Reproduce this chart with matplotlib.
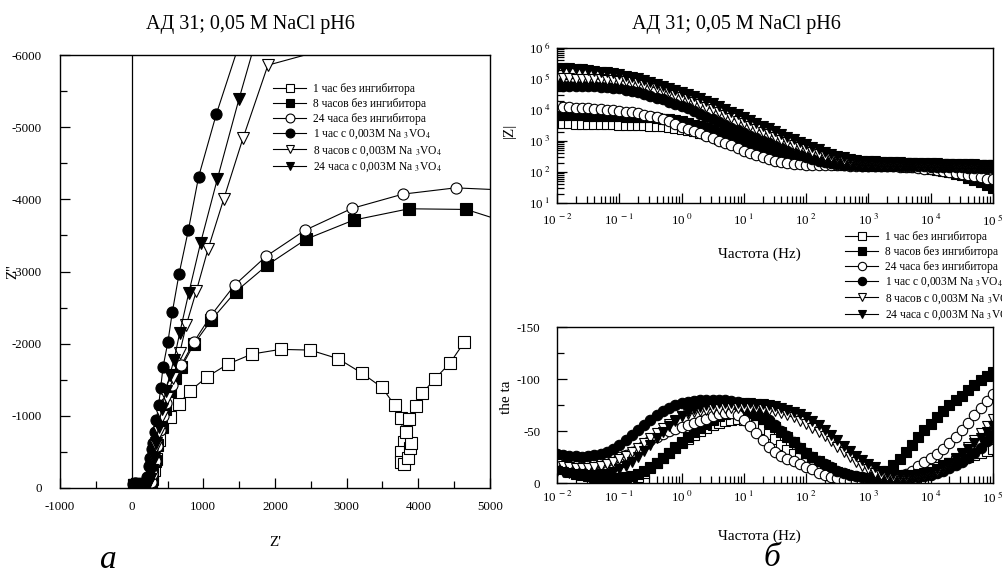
import numpy as np
import matplotlib
matplotlib.use("Agg")
import matplotlib.pyplot as plt
from matplotlib.ticker import FixedLocator, MultipleLocator, NullFormatter

plt.rcParams['font.family'] = ['Liberation Serif', 'DejaVu Serif']
plt.rcParams['mathtext.fontset'] = 'stix'
plt.rcParams['axes.unicode_minus'] = False

labels = ["1 час без ингибитора", "8 часов без ингибитора", "24 часа без ингибитора",
          "1 час с 0,003M Na $_3$VO$_4$", "8 часов с 0,003M Na $_3$VO$_4$",
          "24 часа с 0,003M Na $_3$VO$_4$"]
markers = ['s', 's', 'o', 'o', 'v', 'v']
faces = ['white', 'black', 'white', 'black', 'white', 'black']

# Nyquist data (Z', Z'')
zr_1h = [30, 70, 120, 180, 230, 270, 290, 310, 344, 381, 430, 530, 655, 818, 1055, 1343, 1678, 2078,
         2492, 2883, 3218, 3492, 3668, 3761, 3794, 3761, 3761, 3800, 3860, 3880, 3901, 3831, 3868,
         3970, 4053, 4226, 4445, 4644]
zi_1h = [-40, -60, -60, -40, -30, -40, -120, -250, -400, -665, -849, -988, -1163, -1348, -1542, -1717,
         -1856, -1921, -1911, -1791, -1588, -1394, -1150, -965, -641, -503, -364, -330, -420, -560,
         -619, -771, -951, -1136, -1311, -1506, -1736, -2026]
zr_8h = [30, 70, 120, 180, 230, 265, 290, 320, 360, 410, 470, 540, 610, 693, 869, 1111, 1450, 1892,
         2437, 3096, 3868, 4668, 5300]
zi_8h = [-40, -60, -60, -40, -40, -80, -200, -380, -600, -850, -1100, -1350, -1520, -1672, -1994,
         -2327, -2719, -3089, -3449, -3712, -3869, -3860, -3660]
zr_24h = [30, 70, 120, 180, 230, 265, 290, 320, 355, 400, 440, 484, 568, 693, 869, 1111, 1437, 1879,
          2422, 3073, 3784, 4519, 5400]
zi_24h = [-40, -60, -60, -40, -40, -80, -200, -380, -580, -800, -1000, -1173, -1427, -1704, -2026,
          -2396, -2812, -3213, -3573, -3874, -4072, -4159, -4120]
zr_1hv = [20, 50, 90, 140, 190, 214, 240, 260, 280, 297, 321, 344, 377, 404, 437, 506, 568, 660, 791,
          934, 1181, 1500]
zi_1hv = [-50, -70, -60, -50, -60, -150, -300, -420, -540, -620, -780, -942, -1150, -1381, -1672,
          -2026, -2442, -2960, -3573, -4312, -5180, -6150]
zr_8hv = [30, 70, 120, 180, 230, 260, 285, 310, 340, 375, 420, 490, 576, 669, 762, 902, 1064, 1283,
          1552, 1901, 2900]
zi_8hv = [-40, -60, -50, -40, -50, -120, -250, -400, -580, -780, -1000, -1250, -1519, -1865, -2258,
          -2729, -3306, -3999, -4843, -5859, -6130]
zr_24hv = [30, 70, 120, 180, 230, 260, 285, 310, 340, 375, 420, 480, 530, 590, 669, 795, 962, 1195,
           1497, 1760]
zi_24hv = [-40, -60, -50, -40, -50, -120, -250, -420, -620, -850, -1100, -1350, -1560, -1773, -2143,
           -2697, -3398, -4280, -5388, -6300]

# Bode data: frequency grid and log10|Z|, phase
freq = np.logspace(-2, 5, 71)
lgZ_1h = [3.58, 3.57, 3.57, 3.56, 3.56, 3.55, 3.55, 3.55, 3.54, 3.54,
          3.53, 3.53, 3.52, 3.52, 3.51, 3.50, 3.49, 3.47, 3.45, 3.43,
          3.40, 3.36, 3.32, 3.27, 3.21, 3.15, 3.08, 3.01, 2.94, 2.87,
          2.80, 2.73, 2.66, 2.60, 2.54, 2.49, 2.45, 2.41, 2.38, 2.35,
          2.33, 2.31, 2.30, 2.29, 2.28, 2.28, 2.27, 2.27, 2.27, 2.26,
          2.26, 2.26, 2.26, 2.25, 2.25, 2.25, 2.25, 2.24, 2.24, 2.24,
          2.23, 2.23, 2.22, 2.22, 2.21, 2.20, 2.19, 2.18, 2.17, 2.16, 2.15]
lgZ_8h = [3.85, 3.84, 3.84, 3.83, 3.83, 3.82, 3.82, 3.81, 3.81, 3.80,
          3.80, 3.79, 3.79, 3.78, 3.77, 3.76, 3.74, 3.72, 3.70, 3.67,
          3.63, 3.58, 3.53, 3.47, 3.41, 3.34, 3.27, 3.20, 3.13, 3.06,
          2.99, 2.92, 2.85, 2.78, 2.71, 2.64, 2.58, 2.52, 2.47, 2.42,
          2.38, 2.34, 2.31, 2.28, 2.26, 2.24, 2.23, 2.22, 2.21, 2.21,
          2.20, 2.20, 2.20, 2.19, 2.19, 2.18, 2.17, 2.16, 2.15, 2.13,
          2.11, 2.08, 2.04, 2.00, 1.95, 1.89, 1.82, 1.75, 1.67, 1.59, 1.50]
lgZ_24h = [4.12, 4.11, 4.10, 4.08, 4.07, 4.06, 4.04, 4.03, 4.01, 3.99,
           3.97, 3.95, 3.92, 3.89, 3.85, 3.81, 3.76, 3.70, 3.63, 3.55,
           3.46, 3.39, 3.32, 3.25, 3.17, 3.09, 3.01, 2.93, 2.86, 2.78,
           2.68, 2.61, 2.54, 2.47, 2.41, 2.36, 2.32, 2.29, 2.27, 2.25,
           2.24, 2.23, 2.22, 2.22, 2.21, 2.21, 2.21, 2.20, 2.20, 2.20,
           2.20, 2.20, 2.19, 2.19, 2.18, 2.17, 2.16, 2.15, 2.13, 2.11,
           2.09, 2.06, 2.03, 2.00, 1.97, 1.93, 1.90, 1.86, 1.83, 1.79, 1.76]
lgZ_1hv = [4.80, 4.79, 4.79, 4.78, 4.78, 4.77, 4.76, 4.75, 4.74, 4.72,
           4.70, 4.66, 4.62, 4.57, 4.52, 4.46, 4.40, 4.34, 4.27, 4.20,
           4.13, 4.05, 3.97, 3.88, 3.79, 3.70, 3.61, 3.52, 3.43, 3.34,
           3.25, 3.17, 3.09, 3.00, 2.92, 2.84, 2.76, 2.68, 2.61, 2.54,
           2.48, 2.42, 2.37, 2.33, 2.29, 2.26, 2.24, 2.22, 2.21, 2.20,
           2.20, 2.20, 2.20, 2.20, 2.19, 2.19, 2.19, 2.18, 2.18, 2.18,
           2.17, 2.17, 2.16, 2.16, 2.15, 2.15, 2.14, 2.14, 2.13, 2.13, 2.12]
lgZ_8hv = [5.02, 5.02, 5.02, 5.01, 5.01, 5.00, 5.00, 4.99, 4.98, 4.97,
           4.95, 4.93, 4.90, 4.86, 4.81, 4.76, 4.70, 4.64, 4.57, 4.50,
           4.43, 4.35, 4.27, 4.19, 4.11, 4.02, 3.93, 3.84, 3.75, 3.66,
           3.57, 3.48, 3.39, 3.30, 3.21, 3.12, 3.04, 2.96, 2.88, 2.80,
           2.73, 2.66, 2.59, 2.53, 2.48, 2.44, 2.40, 2.37, 2.35, 2.33,
           2.32, 2.31, 2.30, 2.30, 2.29, 2.29, 2.28, 2.28, 2.27, 2.27,
           2.26, 2.26, 2.25, 2.25, 2.24, 2.24, 2.23, 2.23, 2.22, 2.22, 2.21]
lgZ_24hv = [5.36, 5.35, 5.34, 5.33, 5.31, 5.29, 5.27, 5.24, 5.21, 5.18,
            5.15, 5.11, 5.06, 5.02, 4.96, 4.90, 4.84, 4.78, 4.72, 4.66,
            4.59, 4.52, 4.45, 4.38, 4.30, 4.22, 4.13, 4.04, 3.95, 3.86,
            3.77, 3.68, 3.59, 3.50, 3.41, 3.32, 3.23, 3.14, 3.05, 2.97,
            2.89, 2.81, 2.73, 2.65, 2.58, 2.52, 2.47, 2.43, 2.40, 2.37,
            2.35, 2.34, 2.33, 2.32, 2.31, 2.31, 2.30, 2.30, 2.29, 2.29,
            2.28, 2.28, 2.27, 2.27, 2.26, 2.26, 2.25, 2.25, 2.24, 2.24, 2.23]

th_1h = [8, 8, 7, 7, 6, 6, 5, 4, 2, 1,
         0, -1, -3, -6, -10, -14, -19, -24, -29, -35,
         -38, -42, -46, -50, -53, -56, -58, -60, -61, -62,
         -61, -59, -56, -52, -47, -42, -37, -32, -28, -24,
         -20, -17, -14, -12, -10, -8, -7, -6, -5, -5,
         -5, -5, -5, -6, -6, -7, -8, -9, -10, -12,
         -13, -15, -17, -19, -21, -23, -25, -27, -29, -31, -33]
th_8h = [-15, -13, -11, -9, -8, -7, -6, -5, -5, -5,
         -5, -6, -7, -9, -12, -15, -19, -24, -29, -34,
         -39, -44, -49, -53, -57, -61, -64, -66, -67, -68,
         -68, -67, -65, -62, -58, -54, -49, -44, -39, -34,
         -29, -25, -21, -17, -14, -11, -9, -7, -6, -5,
         -5, -6, -8, -12, -17, -23, -30, -37, -44, -51,
         -57, -63, -69, -75, -80, -84, -89, -94, -99, -103, -107]
th_24h = [-18, -17, -16, -16, -16, -17, -18, -19, -21, -23,
          -25, -27, -30, -33, -37, -41, -44, -47, -50, -52,
          -54, -56, -58, -60, -62, -64, -66, -67, -67, -65,
          -61, -55, -48, -41, -35, -30, -26, -23, -21, -18,
          -15, -13, -10, -8, -6, -4.5, -3, -2, -1, -0.5,
          0, -0.5, -1, -2, -4, -6, -9, -12, -16, -20,
          -24, -28, -33, -38, -44, -51, -58, -65, -72, -79, -86]
th_1hv = [-28, -27, -26, -25.5, -25, -25.5, -26.5, -28, -30, -33,
          -37, -41, -46, -51, -56, -61, -65, -69, -72, -75,
          -77, -78, -79, -80, -80, -80, -80, -80, -79, -78,
          -76, -73, -70, -66, -61, -56, -50, -45, -39, -34,
          -29, -25, -21, -18, -15, -12, -10, -8, -7, -6,
          -5, -5, -5, -5, -5, -5, -5, -6, -6, -7,
          -8, -10, -12, -14, -17, -20, -24, -29, -34, -40, -46]
th_8hv = [-18, -16, -15, -14, -14, -14, -15, -16, -18, -20,
          -23, -26, -30, -34, -38, -43, -48, -53, -57, -61,
          -64, -66, -68, -69, -70, -71, -71, -72, -72, -72,
          -72, -72, -72, -71, -70, -69, -67, -65, -63, -60,
          -57, -53, -49, -45, -40, -35, -30, -25, -20, -16,
          -13, -10, -8, -7, -6, -6, -6, -7, -8, -9,
          -10, -12, -15, -19, -24, -29, -35, -41, -48, -55, -62]
th_24hv = [-12, -11, -10, -9, -8.5, -8, -8, -8.5, -9, -11,
           -13, -16, -20, -25, -31, -37, -43, -49, -55, -60,
           -64, -68, -71, -73, -75, -76, -77, -77, -77, -77,
           -77, -77, -76, -76, -75, -74, -72, -70, -68, -66,
           -63, -60, -56, -51, -46, -41, -36, -31, -26, -22,
           -18, -15, -12, -10, -9, -8, -8, -8, -9, -10,
           -11, -13, -16, -19, -23, -28, -33, -38, -43, -49, -55]

nyq = [(zr_1h, zi_1h), (zr_8h, zi_8h), (zr_24h, zi_24h),
       (zr_1hv, zi_1hv), (zr_8hv, zi_8hv), (zr_24hv, zi_24hv)]
lgZ = [lgZ_1h, lgZ_8h, lgZ_24h, lgZ_1hv, lgZ_8hv, lgZ_24hv]
theta = [th_1h, th_8h, th_24h, th_1hv, th_8hv, th_24hv]

W, H = 1003, 574
fig = plt.figure(figsize=(W / 100, H / 100), dpi=100)


def rect(x0, y0, x1, y1):
    return [x0 / W, 1 - y1 / H, (x1 - x0) / W, (y1 - y0) / H]


def style(ax):
    for s in ax.spines.values():
        s.set_linewidth(1.0)
    ax.tick_params(which='both', direction='in', top=False, right=False,
                   labelsize=9.3, width=0.9)
    ax.tick_params(which='major', length=7)
    ax.tick_params(which='minor', length=5)


leg_kw = dict(frameon=False, fontsize=8.3, borderpad=0, borderaxespad=0,
              handlelength=2.9, handletextpad=0.6, labelspacing=0.25, markerscale=0.8)

# --- Nyquist ---
ax = fig.add_axes(rect(60, 55, 490, 488))
ax.axvline(0, color='k', lw=0.9)
handles = []
for (zr, zi), m, fc, lab in zip(nyq, markers, faces, labels):
    ln, = ax.plot(zr, zi, color='k', lw=0.8, marker=m, ms=8, mfc=fc, mec='k', mew=0.8, label=lab)
    handles.append(ln)
ax.set_xlim(-1000, 5000)
ax.set_ylim(0, -6000)
ax.xaxis.set_major_locator(MultipleLocator(1000))
ax.xaxis.set_minor_locator(MultipleLocator(500))
ax.yaxis.set_major_locator(MultipleLocator(1000))
ax.yaxis.set_minor_locator(MultipleLocator(500))
style(ax)
ax.tick_params(axis='x', pad=9)
ax.tick_params(axis='y', pad=13)
ax.set_xlabel("Z'", fontsize=11)
ax.set_ylabel("Z''", fontsize=11)
ax.xaxis.set_label_coords(0.5, -0.11)
ax.yaxis.set_label_coords(-0.095, 0.5)
ax.legend(handles=handles, loc='upper left', bbox_to_anchor=(273 / W, 1 - 83 / H),
          bbox_transform=fig.transFigure, **leg_kw)
fig.text(250 / W, 1 - 25 / H, "АД 31; 0,05 M NaCl pH6", ha='center', va='center', fontsize=14.5)
fig.text(108 / W, 1 - 560 / H, "а", ha='center', va='center', fontsize=24, style='italic')

# --- Bode |Z| ---
dec = [1e-2, 1e-1, 1e0, 1e1, 1e2, 1e3, 1e4, 1e5]
declab = [r'10$^{\ -2}$', r'10$^{\ -1}$', r'10$^{\ 0}$', r'10$^{\ 1}$', r'10$^{\ 2}$',
          r'10$^{\ 3}$', r'10$^{\ 4}$', r'10$^{\ 5}$']
minor_f = [k * d for d in dec[:-1] for k in range(2, 10)]

ax1 = fig.add_axes(rect(557, 48, 993, 203))
bh = []
for lz, m, fc, lab in zip(lgZ, markers, faces, labels):
    ln, = ax1.plot(freq, 10 ** np.array(lz), color='k', lw=0.8, marker=m, ms=7.5, mfc=fc,
                   mec='k', mew=0.8, label=lab)
    bh.append(ln)
ax1.set_xscale('log')
ax1.set_yscale('log')
ax1.set_xlim(1e-2, 1e5)
ax1.set_ylim(1e1, 1e6)
ax1.xaxis.set_major_locator(FixedLocator(dec))
ax1.set_xticklabels(declab)
ax1.xaxis.set_minor_locator(FixedLocator(minor_f))
ax1.xaxis.set_minor_formatter(NullFormatter())
ydec = [1e1, 1e2, 1e3, 1e4, 1e5, 1e6]
ax1.yaxis.set_major_locator(FixedLocator(ydec))
ax1.set_yticklabels([r'10$^{\ %d}$' % k for k in range(1, 7)])
ax1.yaxis.set_minor_locator(FixedLocator([k * d for d in ydec[:-1] for k in range(2, 10)]))
ax1.yaxis.set_minor_formatter(NullFormatter())
style(ax1)
ax1.tick_params(axis='x', pad=7)
ax1.tick_params(axis='y', pad=5)
ax1.set_xlabel("Частота (Hz)", fontsize=11)
ax1.xaxis.set_label_coords(0.465, -0.29)
ax1.set_ylabel("|Z|", fontsize=11)
ax1.yaxis.set_label_coords(-0.095, 0.47)
fig.text(736 / W, 1 - 25 / H, "АД 31; 0,05 M NaCl pH6", ha='center', va='center', fontsize=14.5)
fig.legend(handles=bh, loc='upper left', bbox_to_anchor=(845 / W, 1 - 231 / H),
           bbox_transform=fig.transFigure, **leg_kw)

# --- Bode phase ---
ax2 = fig.add_axes(rect(557, 327, 993, 483))
for th, m, fc in zip(theta, markers, faces):
    ax2.plot(freq, th, color='k', lw=0.8, marker=m, ms=7.5, mfc=fc, mec='k', mew=0.8)
ax2.set_xscale('log')
ax2.set_xlim(1e-2, 1e5)
ax2.set_ylim(0, -150)
ax2.xaxis.set_major_locator(FixedLocator(dec))
ax2.set_xticklabels(declab)
ax2.xaxis.set_minor_locator(FixedLocator(minor_f))
ax2.xaxis.set_minor_formatter(NullFormatter())
ax2.yaxis.set_major_locator(MultipleLocator(50))
ax2.yaxis.set_minor_locator(MultipleLocator(25))
style(ax2)
ax2.tick_params(axis='x', pad=5)
ax2.tick_params(axis='y', pad=12)
ax2.set_xlabel("Частота (Hz)", fontsize=11)
ax2.xaxis.set_label_coords(0.465, -0.3)
ax2.set_ylabel("the ta", fontsize=11)
ax2.yaxis.set_label_coords(-0.1, 0.55)
fig.text(772 / W, 1 - 558 / H, "б", ha='center', va='center', fontsize=24, style='italic')

fig.savefig("out.png", dpi=100)
